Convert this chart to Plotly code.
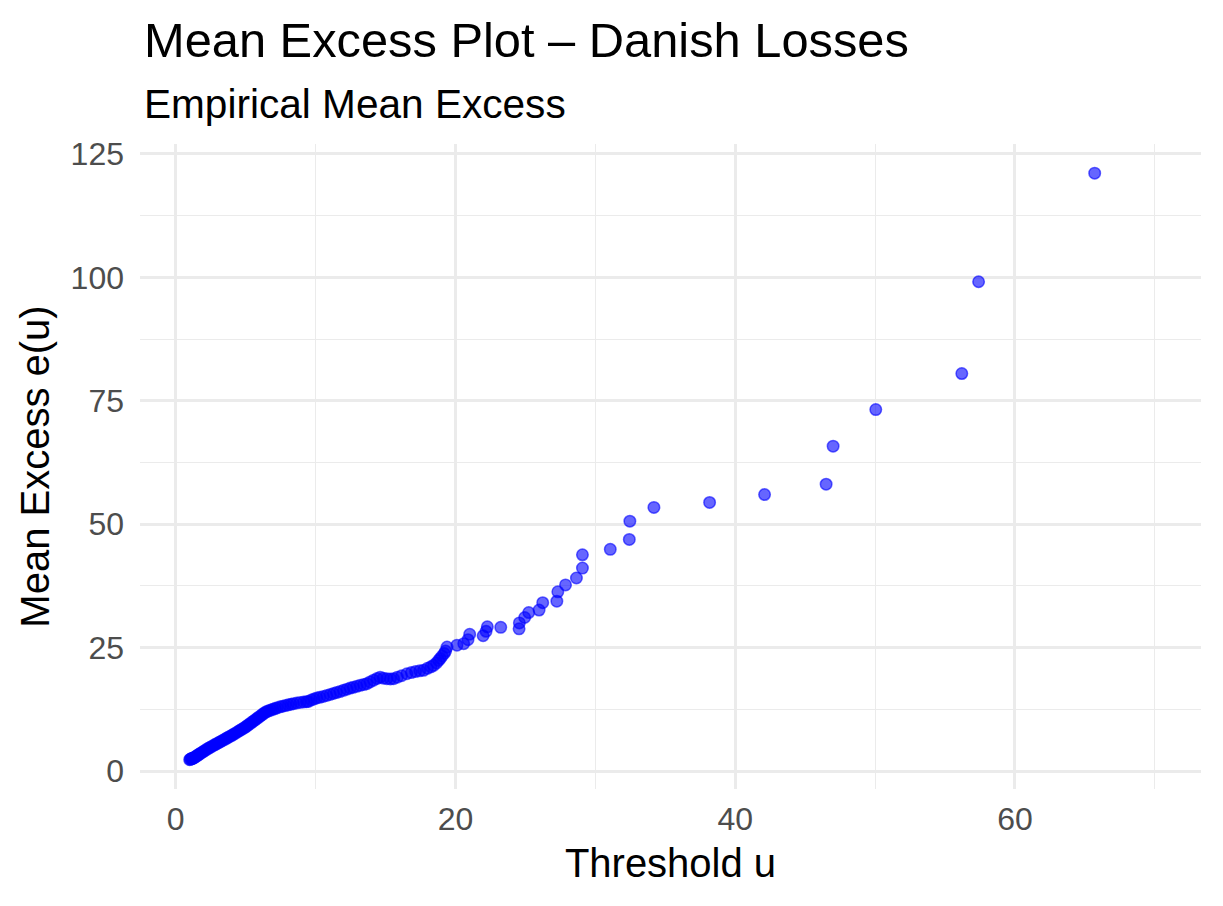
import plotly.graph_objects as go

# Threshold u (x) and empirical mean excess e(u) (y)
threshold_u = [
    1.00, 1.05, 1.10, 1.15, 1.20, 1.25, 1.30, 1.38, 1.46, 1.54, 1.62, 1.70, 1.80, 1.90,
    2.00, 2.10, 2.22, 2.34, 2.46, 2.58, 2.70, 2.82, 2.94, 3.06, 3.17, 3.30, 3.42, 3.54,
    3.66, 3.78, 3.90, 4.02, 4.12, 4.25, 4.38, 4.50, 4.62, 4.74, 4.86, 4.98, 5.08, 5.20,
    5.32, 5.44, 5.56, 5.68, 5.80, 5.92, 6.04, 6.16, 6.28, 6.40, 6.51, 6.65, 6.80, 6.95,
    7.10, 7.25, 7.47, 7.65, 7.85, 8.05, 8.25, 8.42, 8.65, 8.90, 9.15, 9.35, 9.49, 9.70,
    9.90, 10.09, 10.30, 10.55, 10.80, 11.05, 11.28, 11.50, 11.75, 12.00, 12.25, 12.48,
    12.70, 12.95, 13.20, 13.45, 13.67, 13.90, 14.15, 14.40, 14.62, 14.85, 15.10, 15.35,
    15.58, 15.85, 16.15, 16.53, 16.85, 17.15, 17.45, 17.72, 18.00, 18.25, 18.44, 18.65,
    18.80, 18.92, 19.05, 19.20, 19.30,
    19.40, 20.11, 20.59, 20.90, 21.02, 21.98, 22.19, 22.28, 23.24, 24.55, 24.57, 24.95,
    25.24, 25.98, 26.24, 27.25, 27.32, 27.87, 28.65, 29.08, 29.08, 31.07, 32.43, 32.47,
    34.19, 38.17, 42.10, 46.50, 47.00, 50.05, 56.20, 57.40, 65.70,
]
mean_excess = [
    2.30, 2.38, 2.47, 2.52, 2.56, 2.60, 2.68, 2.83, 2.98, 3.13, 3.28, 3.43, 3.62, 3.80,
    3.98, 4.18, 4.40, 4.60, 4.79, 4.98, 5.17, 5.36, 5.55, 5.73, 5.90, 6.10, 6.29, 6.48,
    6.67, 6.86, 7.05, 7.24, 7.40, 7.62, 7.85, 8.06, 8.27, 8.47, 8.68, 8.90, 9.10, 9.35,
    9.60, 9.86, 10.10, 10.35, 10.60, 10.86, 11.12, 11.38, 11.62, 11.87, 12.05, 12.20,
    12.35, 12.50, 12.65, 12.80, 13.00, 13.12, 13.26, 13.40, 13.53, 13.65, 13.78, 13.90,
    13.98, 14.05, 14.10, 14.40, 14.60, 14.80, 14.92, 15.10, 15.30, 15.50, 15.70, 15.90,
    16.10, 16.35, 16.58, 16.80, 16.95, 17.15, 17.35, 17.52, 17.70, 18.05, 18.40, 18.75,
    19.00, 18.80, 18.70, 18.65, 18.70, 19.00, 19.30, 19.70, 19.95, 20.15, 20.30, 20.40,
    20.80, 21.10, 21.40, 21.90, 22.40, 22.80, 23.30, 23.80, 24.30,
    25.10, 25.50, 25.80, 26.60, 27.70, 27.40, 28.30, 29.20, 29.10, 28.80, 30.00, 31.10,
    32.10, 32.60, 34.10, 34.40, 36.30, 37.70, 39.10, 41.10, 43.80, 44.90, 46.90, 50.60,
    53.40, 54.40, 56.00, 58.10, 65.80, 73.20, 80.50, 99.10, 121.10,
]

x_ticks = [0, 20, 40, 60]
y_ticks = [0, 25, 50, 75, 100, 125]

title_text = "Mean Excess Plot – Danish Losses"
subtitle_text = "Empirical Mean Excess"
x_title = "Threshold u"
y_title = "Mean Excess e(u)"

FONT = "Liberation Sans, Arial, Helvetica, sans-serif"
GRID = "#EBEBEB"

fig = go.Figure(
    go.Scatter(
        x=threshold_u,
        y=mean_excess,
        mode="markers",
        marker=dict(
            size=11.5,
            color="rgba(0,0,255,0.6)",
            line=dict(color="rgba(0,0,255,0.6)", width=1.5),
        ),
        hoverinfo="x+y",
    )
)

# the page body adds an 8px offset, so the figure is 8px smaller and shifted
FIG_W, FIG_H = 1215, 898
plot_left, plot_right = 132, 1193
plot_top, plot_bottom = 136, 781
plot_h = plot_bottom - plot_top

def paper_y(py):
    return (plot_bottom - py) / plot_h

fig.update_layout(
    width=FIG_W,
    height=FIG_H,
    margin=dict(l=plot_left, r=FIG_W - plot_right, t=plot_top, b=FIG_H - plot_bottom, pad=0),
    paper_bgcolor="white",
    plot_bgcolor="white",
    showlegend=False,
    font=dict(family=FONT, color="black"),
    xaxis=dict(
        range=[-2.55, 73.3],
        tickvals=x_ticks,
        ticktext=[str(v) for v in x_ticks],
        showgrid=True,
        gridcolor=GRID,
        gridwidth=2.5,
        zeroline=False,
        showline=False,
        ticks="",
        ticklabelstandoff=8,
        tickfont=dict(size=32, color="#4D4D4D", family=FONT),
        minor=dict(dtick=10, tick0=0, showgrid=True, gridcolor=GRID, gridwidth=1.3),
        title=dict(text=x_title, font=dict(size=40, color="black", family=FONT), standoff=12),
        automargin=False,
    ),
    yaxis=dict(
        range=[-3.64, 127.0],
        tickvals=y_ticks,
        ticktext=[str(v) for v in y_ticks],
        showgrid=True,
        gridcolor=GRID,
        gridwidth=2.5,
        zeroline=False,
        showline=False,
        ticks="",
        ticklabelstandoff=15,
        tickfont=dict(size=32, color="#4D4D4D", family=FONT),
        minor=dict(dtick=12.5, tick0=0, showgrid=True, gridcolor=GRID, gridwidth=1.3),
        title=dict(text=y_title, font=dict(size=40, color="black", family=FONT), standoff=8),
        automargin=False,
    ),
    annotations=[
        dict(
            text=title_text, xref="paper", yref="paper", x=0.002, y=paper_y(32),
            xanchor="left", yanchor="middle", showarrow=False,
            font=dict(size=48.8, color="black", family=FONT),
        ),
        dict(
            text=subtitle_text, xref="paper", yref="paper", x=0.002, y=paper_y(96),
            xanchor="left", yanchor="middle", showarrow=False,
            font=dict(size=40.6, color="black", family=FONT),
        ),
    ],
)

fig.write_html("out.html")
